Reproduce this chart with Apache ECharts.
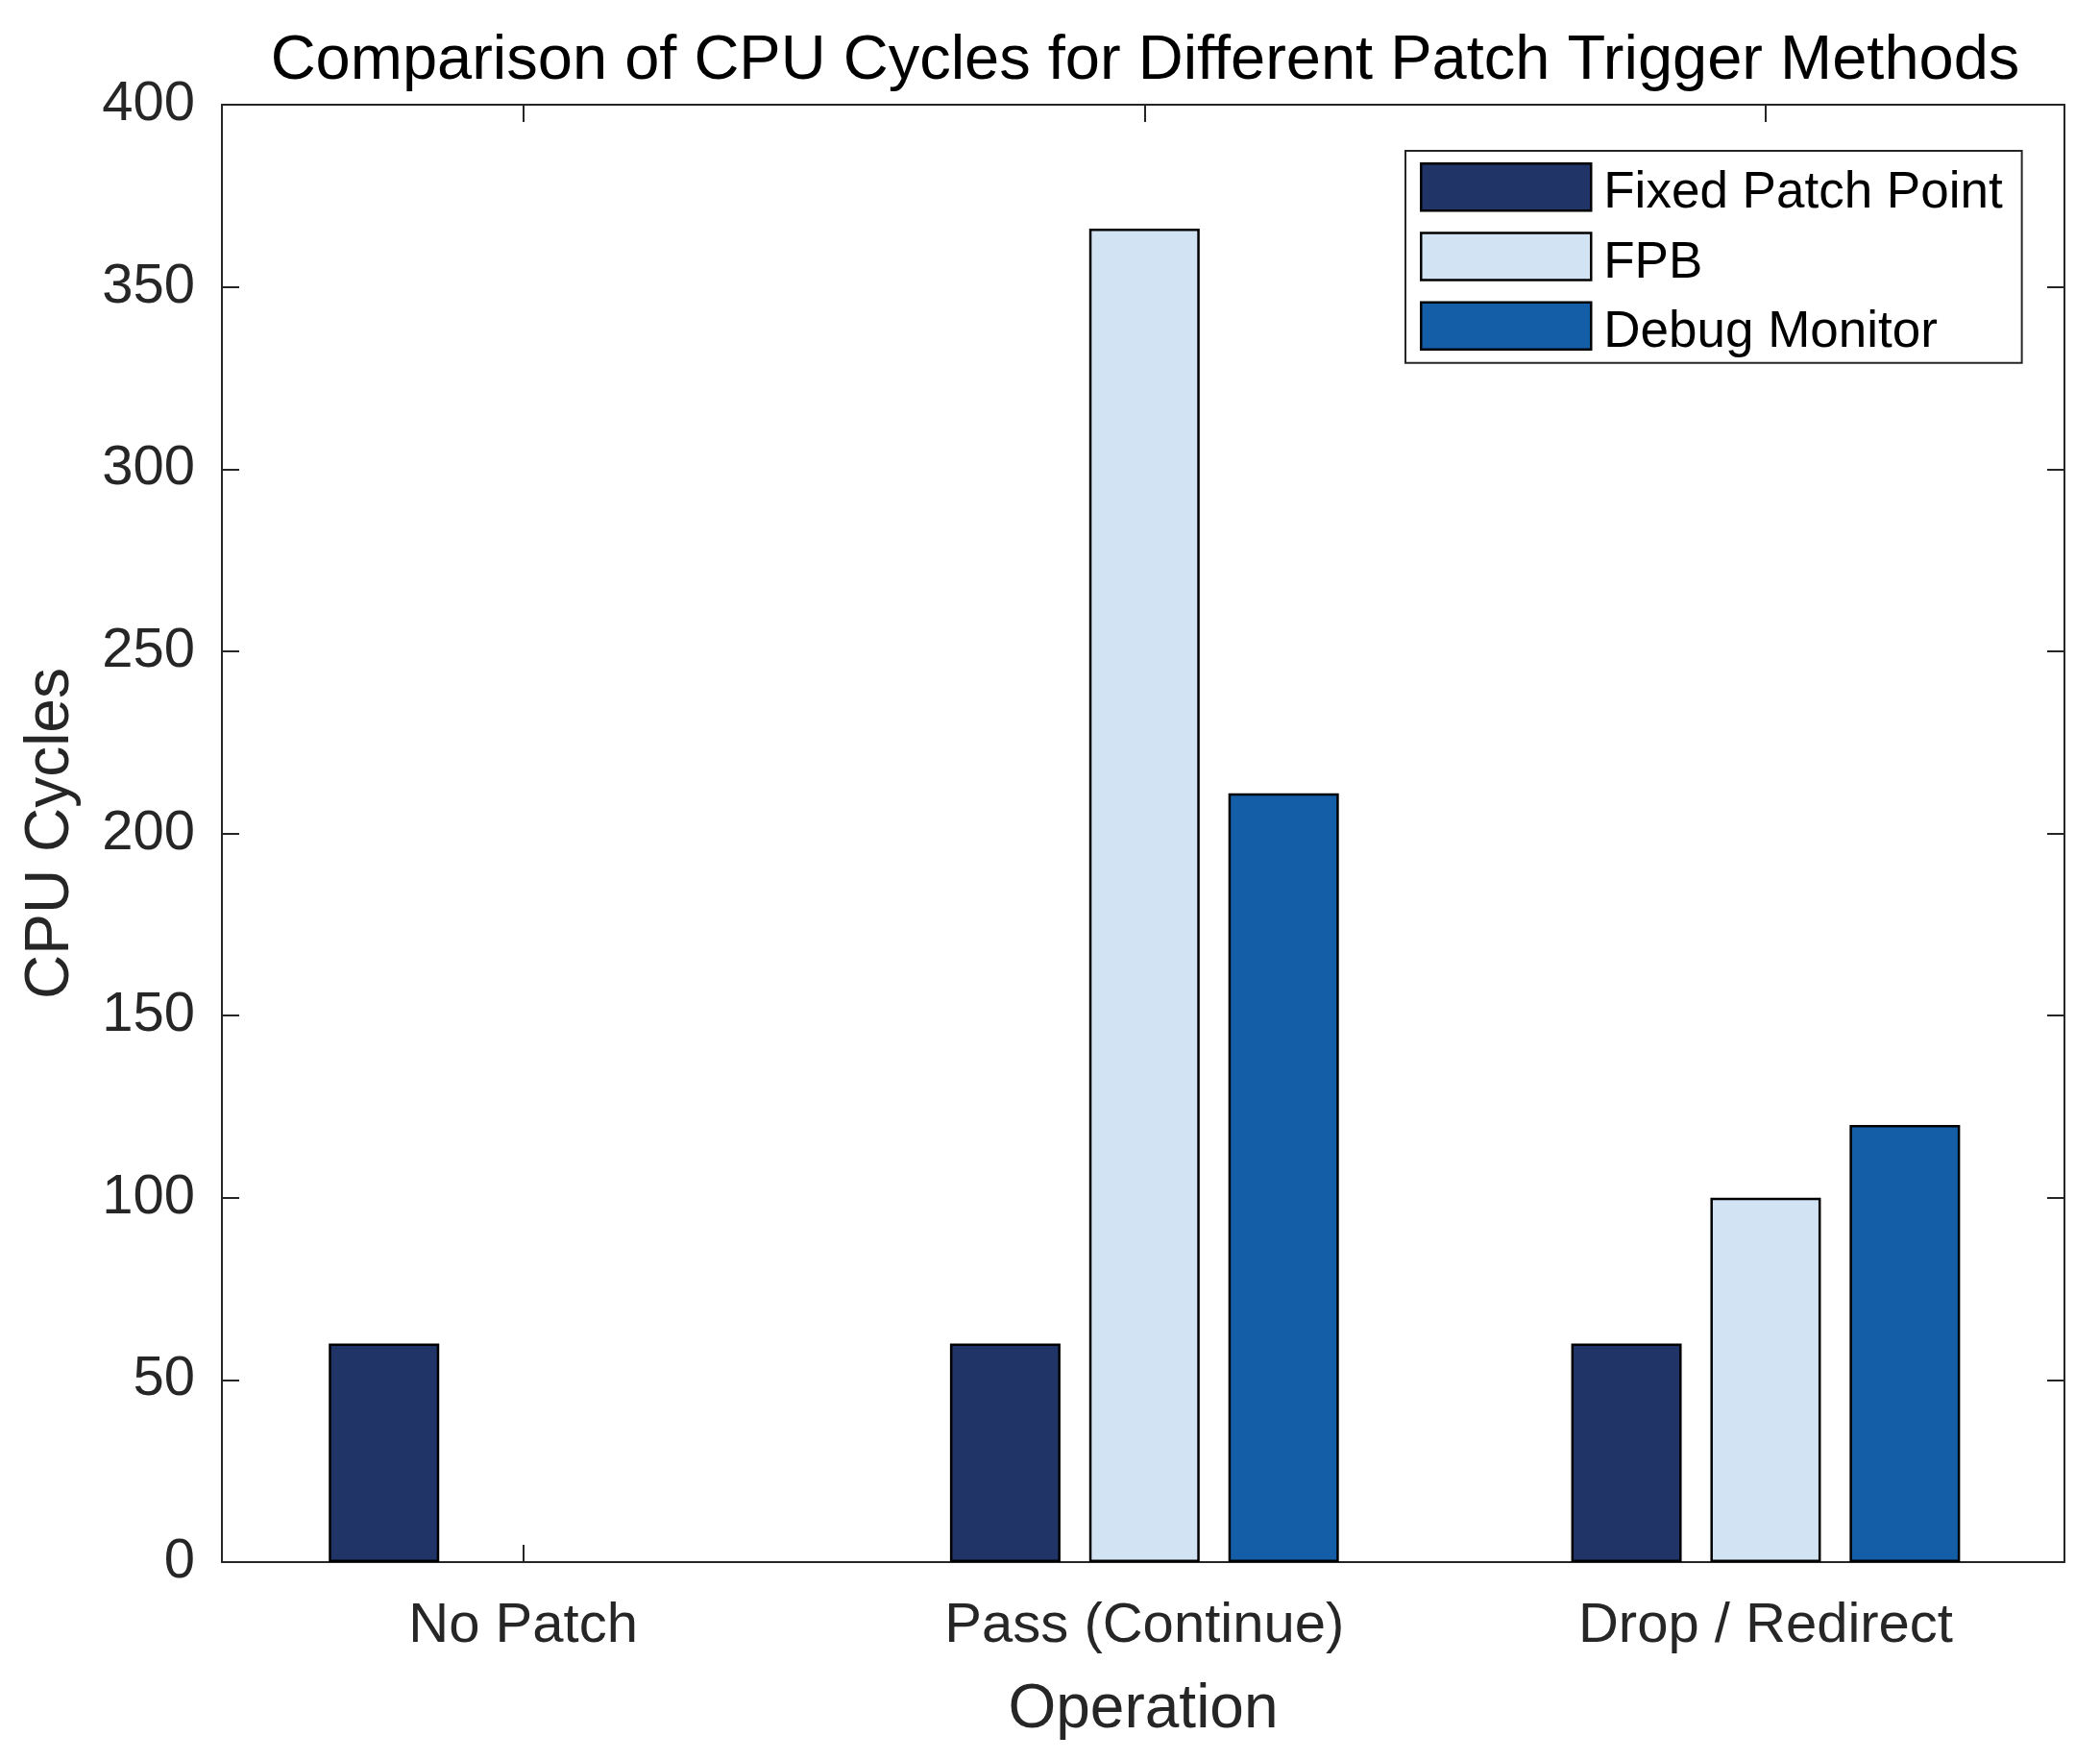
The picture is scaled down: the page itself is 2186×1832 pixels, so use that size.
<!DOCTYPE html>
<html>
<head>
<meta charset="utf-8">
<script src="https://cdn.jsdelivr.net/npm/echarts@6/dist/echarts.min.js"></script>
<style>
html,body{margin:0;padding:0;background:#fff;}
#chart{width:2186px;height:1832px;}
</style>
</head>
<body>
<div id="chart"></div>
<script>
const categories = ['No Patch', 'Pass (Continue)', 'Drop / Redirect'];
const seriesNames = ['Fixed Patch Point', 'FPB', 'Debug Monitor'];
const fixedPatchPoint = [60, 60, 60];
const fpb = [0, 366, 100];
const debugMonitor = [0, 211, 120];
const yTicks = { min: 0, max: 400, interval: 50 };
const xPositions = [1, 2, 3];
const colors = ['#213468', '#d2e3f3', '#145ea8'];

const FONT = 'Liberation Sans, Arial, Helvetica, sans-serif';
const TXT = '#262626';
const chart = echarts.init(document.getElementById('chart'), null, { renderer: 'canvas' });

const BW = 2.5;
const barStyle = (c) => ({ color: c, borderColor: '#000', borderWidth: BW });
const toPairs = (arr) => arr.map((v, i) => ({
  value: [xPositions[i], v],
  itemStyle: { borderWidth: v === 0 ? 0 : BW }
}));
const X_MIN = 0.515, X_MAX = 3.481;

const xBase = (pos, labels) => ({
  type: 'value', min: X_MIN, max: X_MAX, position: pos,
  axisLine: { show: true, onZero: false, lineStyle: { color: TXT, width: 2 } },
  axisTick: { show: true, inside: true, length: 18, customValues: xPositions, lineStyle: { color: TXT, width: 2 } },
  axisLabel: labels ? {
    show: true, customValues: xPositions, fontFamily: FONT, fontSize: 58, color: TXT, margin: 38,
    formatter: (v) => categories[Math.round(v) - 1]
  } : { show: false },
  splitLine: { show: false }
});

const option = {
  backgroundColor: '#fff',
  animation: false,
  textStyle: { fontFamily: FONT, color: TXT },
  title: {
    text: 'Comparison of CPU Cycles for Different Patch Trigger Methods',
    left: 1192, top: 32, padding: 0,
    textAlign: 'center',
    textStyle: { fontFamily: FONT, fontSize: 65, fontWeight: 'normal', color: '#000' }
  },
  legend: {
    orient: 'vertical',
    left: 1463, top: 157,
    padding: [12, 20, 5, 15],
    itemWidth: 177, itemHeight: 49, itemGap: 13,
    backgroundColor: '#fff',
    borderColor: '#262626', borderWidth: 2,
    formatter: (name) => '{t|' + name + '}',
    textStyle: {
      fontFamily: FONT, fontSize: 53, color: '#000',
      rich: { t: { fontFamily: FONT, fontSize: 53, color: '#000', padding: [14, 0, 0, 8] } }
    },
    data: seriesNames.map((n, i) => ({ name: n, icon: 'rect', itemStyle: barStyle(colors[i]) }))
  },
  grid: { left: 231, right: 37, top: 109, bottom: 206, containLabel: false },
  xAxis: [
    Object.assign(xBase('bottom', true), {
      name: 'Operation', nameLocation: 'middle', nameGap: 122,
      nameTextStyle: { fontFamily: FONT, fontSize: 64, color: TXT }
    }),
    xBase('top', false)
  ],
  yAxis: [
    {
      type: 'value', min: yTicks.min, max: yTicks.max, interval: yTicks.interval, position: 'left',
      axisLine: { show: true, lineStyle: { color: TXT, width: 2 } },
      axisTick: { show: true, inside: true, length: 18, lineStyle: { color: TXT, width: 2 } },
      axisLabel: { fontFamily: FONT, fontSize: 58, color: TXT, margin: 28 },
      splitLine: { show: false },
      name: 'CPU Cycles', nameLocation: 'middle', nameGap: 146, nameRotate: 90,
      nameTextStyle: { fontFamily: FONT, fontSize: 64, color: TXT }
    },
    {
      type: 'value', min: yTicks.min, max: yTicks.max, interval: yTicks.interval, position: 'right',
      axisLine: { show: true, lineStyle: { color: TXT, width: 2 } },
      axisTick: { show: true, inside: true, length: 18, lineStyle: { color: TXT, width: 2 } },
      axisLabel: { show: false },
      splitLine: { show: false }
    }
  ],
  series: [
    { name: seriesNames[0], type: 'bar', data: toPairs(fixedPatchPoint), itemStyle: barStyle(colors[0]), barWidth: 115, barGap: '26%' },
    { name: seriesNames[1], type: 'bar', data: toPairs(fpb), itemStyle: barStyle(colors[1]), barWidth: 115, barGap: '26%' },
    { name: seriesNames[2], type: 'bar', data: toPairs(debugMonitor), itemStyle: barStyle(colors[2]), barWidth: 115, barGap: '26%' }
  ]
};
chart.setOption(option);
</script>
</body>
</html>
